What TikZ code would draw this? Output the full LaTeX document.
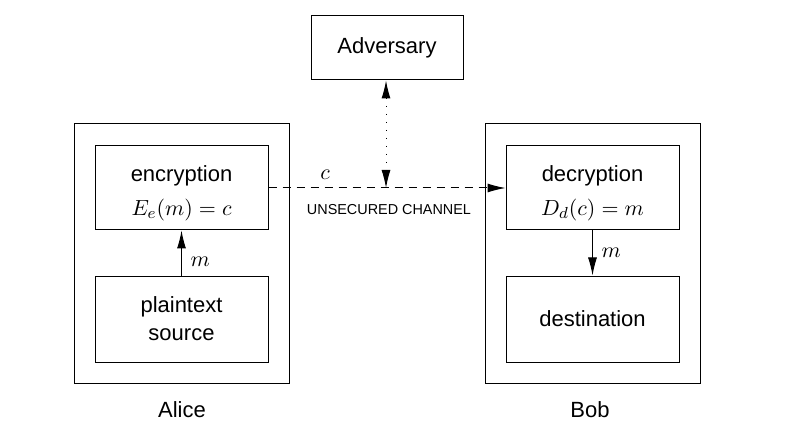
\documentclass[tikz,border=0pt]{standalone}
\usepackage{fontspec}
\setmainfont{Liberation Sans}
\usetikzlibrary{arrows.meta}
\begin{document}
\begin{tikzpicture}[x=0.5pt,y=-0.5pt,
  box/.style={draw,line width=0.5pt,inner sep=0pt,align=center,font=\fontsize{11}{13}\selectfont},
  tip/.style={-{Latex[length=9pt,width=4.5pt]}},
  every node/.style={font=\fontsize{11}{13}\selectfont}]
\useasboundingbox (0,0) rectangle (801,448);
\node[box,minimum width=107.5pt,minimum height=129.5pt] (alice) at (181.5,253.5) {};
\node[box,minimum width=107.5pt,minimum height=129.5pt] (bob) at (592.5,253.5) {};
\node[box,minimum width=76pt,minimum height=32pt] (adv) at (387,48) {Adversary};
\node[box,minimum width=86.5pt,minimum height=42pt] (enc) at (181.5,188) {\rule{0pt}{13pt}encryption\\[4pt]$E_e(m)=c$};
\node[box,minimum width=86.5pt,minimum height=43pt] (src) at (181.5,319) {plaintext\\[1pt]source};
\node[box,minimum width=86.5pt,minimum height=42pt] (dec) at (592.5,188) {\rule{0pt}{13pt}decryption\\[4pt]$D_d(c)=m$};
\node[box,minimum width=86.5pt,minimum height=43pt] (dst) at (592.5,319) {destination};
\node (alab) at (182,410) {Alice};
\node (blab) at (590,410) {Bob};
\coordinate (mid) at (386,188);
\draw[tip,line width=0.5pt,dash pattern=on 4pt off 3pt] (enc.east) -- (dec.west);
\draw[{Latex[length=9pt,width=4.5pt]}-{Latex[length=9pt,width=4.5pt]},line width=0.5pt,dash pattern=on 0.5pt off 3.5pt] (adv.south -| mid) -- (mid);
\node (clab) at (325,175) {$c$};
\node[font=\fontsize{7.2}{9}\selectfont] (chan) at (389,210) {UNSECURED CHANNEL};
\draw[tip,line width=0.5pt] (src.north) -- node[right=1pt,pos=0.3] {$m$} (enc.south);
\draw[tip,line width=0.5pt] (dec.south) -- node[right=1pt,pos=0.5] {$m$} (dst.north);
\end{tikzpicture}
\end{document}
